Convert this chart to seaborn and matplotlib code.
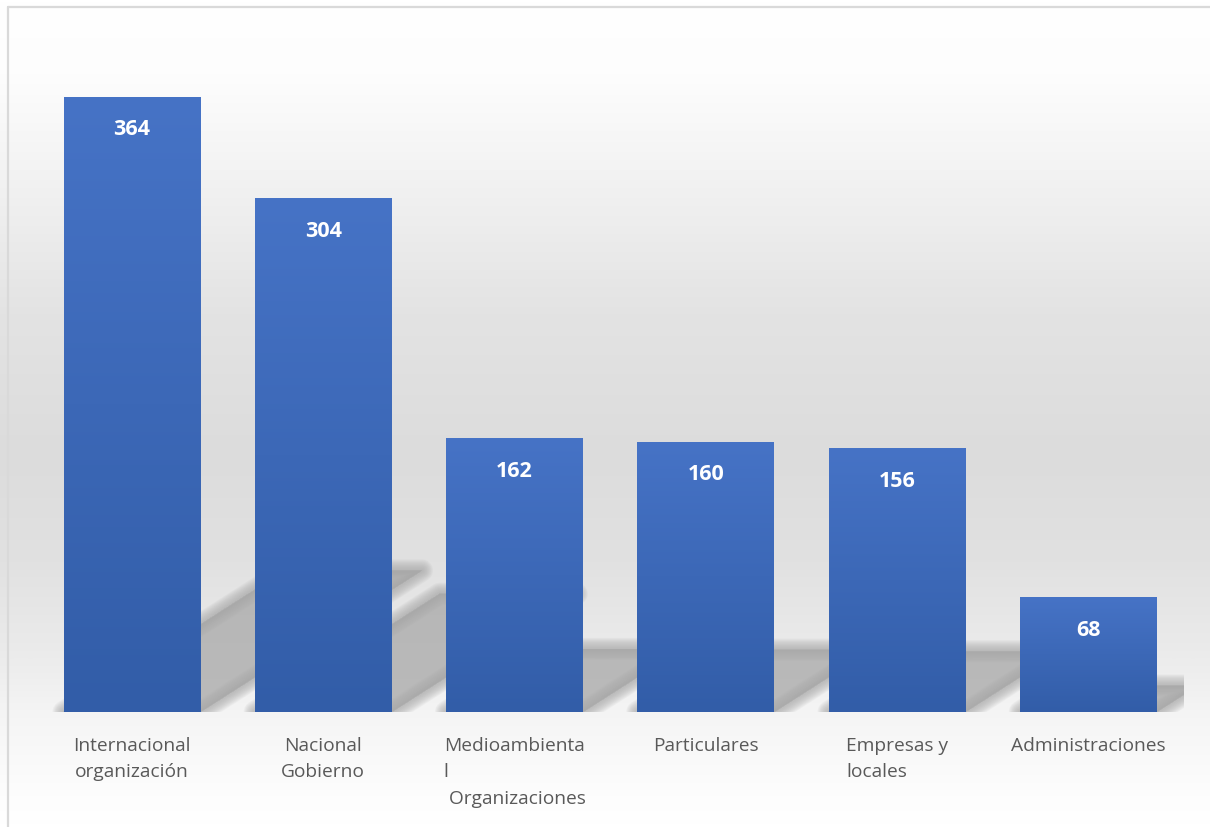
import numpy as np
import pandas as pd
import matplotlib
matplotlib.use("Agg")
import matplotlib.pyplot as plt
from matplotlib.patches import Polygon
from matplotlib.colors import LinearSegmentedColormap
import seaborn as sns

# Data
categories = [
    "Internacional\norganización",
    "Nacional\nGobierno",
    "Medioambienta\nl\n Organizaciones",
    "Particulares",
    "Empresas y\nlocales",
    "Administraciones",
]
values = [364, 304, 162, 160, 156, 68]
left_aligned = [2, 4]

BAR_TOP = "#4673C6"
BAR_BOTTOM = "#325DA8"
TEXT_GRAY = "#595959"

sns.set_theme(style="white")
plt.rcParams["font.family"] = ["Open Sans", "DejaVu Sans"]

df = pd.DataFrame({"cat": categories, "val": values})

fig = plt.figure(figsize=(12.1, 8.28), dpi=100)

# background: soft vertical gray gradient + thin frame on top/left
bg = fig.add_axes([0, 0, 1, 1], zorder=-10)
stops = [(0.0, "#ffffff"), (0.09, "#fdfdfd"), (0.25, "#efefef"),
         (0.38, "#e3e3e3"), (0.55, "#dcdcdc"), (0.68, "#e1e1e1"),
         (0.80, "#ececec"), (0.87, "#f5f5f5"), (0.95, "#fcfcfc"), (1.0, "#ffffff")]
bg_cmap = LinearSegmentedColormap.from_list("bg", stops)
bg.imshow(np.linspace(0, 1, 400).reshape(-1, 1), aspect="auto", cmap=bg_cmap,
          extent=[0, 1, 0, 1], origin="upper")
bg.plot([8 / 1210, 1.01], [1 - 8 / 828] * 2, color="#d9d9d9", lw=1.6)
bg.plot([8 / 1210] * 2, [-0.01, 1 - 8 / 828], color="#d9d9d9", lw=1.6)
bg.set_xlim(0, 1)
bg.set_ylim(0, 1)
bg.axis("off")

ax = fig.add_axes([0.0301, 0.1389, 0.9484, 0.8164])
ax.set_facecolor("none")

sns.barplot(data=df, x="cat", y="val", color=BAR_TOP, width=0.716,
            saturation=1, linewidth=0, edgecolor="none", ax=ax, zorder=3)
bars = list(ax.patches)
ax.set_xlim(-0.5, len(categories) - 0.5)
ax.set_ylim(0, 400)

# perspective shadows (sheared copies of each bar), softened with layers
shear_x = 0.00318
shear_y = 0.23
shadow_color = "#a9a9a9"
for p in bars:
    x0, w, h = p.get_x(), p.get_width(), p.get_height()
    dx, dy = shear_x * h, shear_y * h
    pts = [(x0, 0), (x0 + w, 0), (x0 + w + dx, dy), (x0 + dx, dy)]
    for lw in np.linspace(16, 0, 12):
        ax.add_patch(Polygon(pts, closed=True, facecolor=shadow_color,
                             edgecolor=shadow_color, lw=lw, alpha=0.1,
                             joinstyle="round", zorder=1))

# vertical gradient inside each bar
bar_cmap = LinearSegmentedColormap.from_list("bar", [BAR_TOP, BAR_BOTTOM])
grad = np.linspace(0, 1, 256).reshape(-1, 1)
for p in bars:
    x0, w, h = p.get_x(), p.get_width(), p.get_height()
    im = ax.imshow(grad, aspect="auto", cmap=bar_cmap, origin="upper",
                   extent=[x0, x0 + w, 0, h], zorder=4)
    im.set_clip_path(p)
ax.set_xlim(-0.5, len(categories) - 0.5)
ax.set_ylim(0, 400)

# value labels
for i, v in enumerate(values):
    ax.annotate(str(v), (i, v), xytext=(0, -23), textcoords="offset points",
                ha="center", va="center", color="white", fontsize=15.5,
                fontweight="bold", zorder=6)

ax.set_xlabel("")
ax.set_ylabel("")
ax.set_yticks([])
ax.tick_params(axis="x", length=0, pad=17)
for i, t in enumerate(ax.get_xticklabels()):
    t.set_color(TEXT_GRAY)
    t.set_fontsize(13.75)
    t.set_linespacing(1.62)
    if i in left_aligned:
        t.set_multialignment("left")
sns.despine(ax=ax, left=True, bottom=True)

fig.savefig("out.png", dpi=100)
